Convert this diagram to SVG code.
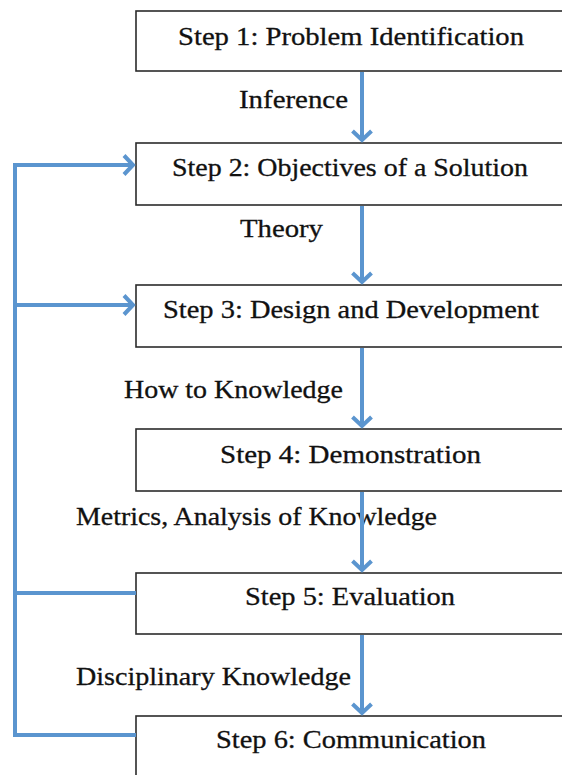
<svg xmlns="http://www.w3.org/2000/svg" width="562" height="775" viewBox="0 0 562 775">
<style>
.box{fill:#fff;stroke:#2b2b2b;stroke-width:1.6}
.t{font-family:"Liberation Serif","DejaVu Serif",serif;font-size:25px;fill:#111;stroke:#111;stroke-width:0.3}
.c{fill:none;stroke:#5b95cf;stroke-width:4;stroke-linejoin:miter}
</style>
<defs>
<marker id="ah" markerUnits="userSpaceOnUse" markerWidth="24" markerHeight="26" viewBox="-12 -13 24 26" refX="0" refY="0" orient="auto" overflow="visible">
<path d="M-10,-9.5 L-1,0 L-10,9.5" fill="none" stroke="#5b95cf" stroke-width="4"/>
</marker>
</defs>
<rect width="562" height="775" fill="#fff"/>
<g id="step1"><rect class="box" x="136" y="11" width="440" height="60"/><text class="t" x="178" y="45" textLength="346" lengthAdjust="spacingAndGlyphs">Step 1: Problem Identification</text></g>
<g id="step2"><rect class="box" x="136" y="143" width="440" height="62"/><text class="t" x="172" y="176" textLength="356" lengthAdjust="spacingAndGlyphs">Step 2: Objectives of a Solution</text></g>
<g id="step3"><rect class="box" x="136" y="285" width="440" height="62"/><text class="t" x="163" y="318" textLength="376" lengthAdjust="spacingAndGlyphs">Step 3: Design and Development</text></g>
<g id="step4"><rect class="box" x="136" y="429" width="440" height="62"/><text class="t" x="220" y="463" textLength="261" lengthAdjust="spacingAndGlyphs">Step 4: Demonstration</text></g>
<g id="step5"><rect class="box" x="136" y="573" width="440" height="61"/><text class="t" x="245" y="605" textLength="210" lengthAdjust="spacingAndGlyphs">Step 5: Evaluation</text></g>
<g id="step6"><rect class="box" x="136" y="716" width="440" height="70"/><text class="t" x="216" y="748" textLength="270" lengthAdjust="spacingAndGlyphs">Step 6: Communication</text></g>
<g id="edge-labels">
<text class="t" x="239" y="108" textLength="109" lengthAdjust="spacingAndGlyphs">Inference</text>
<text class="t" x="240" y="237" textLength="83" lengthAdjust="spacingAndGlyphs">Theory</text>
<text class="t" x="124" y="398" textLength="219" lengthAdjust="spacingAndGlyphs">How to Knowledge</text>
<text class="t" x="76" y="525" textLength="361" lengthAdjust="spacingAndGlyphs">Metrics, Analysis of Knowledge</text>
<text class="t" x="76" y="685" textLength="275" lengthAdjust="spacingAndGlyphs">Disciplinary Knowledge</text>
</g>
<g id="connectors">
<path class="c" d="M362,72 V141" marker-end="url(#ah)"/>
<path class="c" d="M362,206 V283" marker-end="url(#ah)"/>
<path class="c" d="M362,348 V427" marker-end="url(#ah)"/>
<path class="c" d="M362,492 V571" marker-end="url(#ah)"/>
<path class="c" d="M362,635 V714" marker-end="url(#ah)"/>
<path class="c" d="M136,735 H15 V165 H134" marker-end="url(#ah)"/>
<path class="c" d="M15,305 H134" marker-end="url(#ah)"/>
<path class="c" d="M136,593 H15"/>
</g>
</svg>
